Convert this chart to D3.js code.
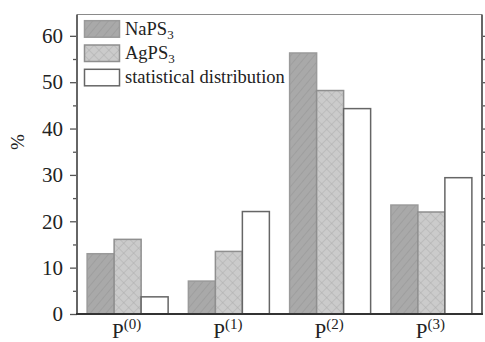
<!DOCTYPE html>
<html>
<head>
<meta charset="utf-8">
<script src="https://cdn.jsdelivr.net/npm/d3@7"></script>
<style>
  html, body { margin: 0; padding: 0; background: #fff; }
  svg { display: block; }
  svg text { font-family: "Liberation Serif", "Times New Roman", serif; }
</style>
</head>
<body>
<svg id="chart" width="485" height="342"></svg>
<script>
// Phosphorus site populations (%)
const categories = ["0", "1", "2", "3"];
const seriesNames = ["NaPS3", "AgPS3", "statistical distribution"];
const naps3 = [13.0, 7.1, 56.3, 23.5];
const agps3 = [16.1, 13.5, 48.2, 22.0];
const statistical = [3.7, 22.1, 44.3, 29.4];
const yTicks = [0, 10, 20, 30, 40, 50, 60];
const yMinorTicks = [5, 15, 25, 35, 45, 55];

const SERIF = "'Liberation Serif', 'Times New Roman', serif";
const svg = d3.select("#chart");
const W = 485;
const x0 = 77, x1 = W - 3;
const yTop = 14.5, yBot = 314;

const x = d3.scaleBand().domain(categories).range([x0, x1]).paddingInner(0).paddingOuter(0);
const y = d3.scaleLinear().domain([0, 64.6]).range([yBot, yTop]);

// hatch patterns
const defs = svg.append("defs");
const diag = defs.append("pattern").attr("id", "diag")
  .attr("patternUnits", "userSpaceOnUse").attr("width", 6).attr("height", 6)
  .attr("patternTransform", "rotate(40)");
diag.append("rect").attr("width", 6).attr("height", 6).attr("fill", "#a9a9a9");
diag.append("line").attr("x1", 0).attr("y1", 0).attr("x2", 0).attr("y2", 6)
  .attr("stroke", "#999").attr("stroke-width", 1.4);

const cross = defs.append("pattern").attr("id", "cross")
  .attr("patternUnits", "userSpaceOnUse").attr("width", 7).attr("height", 7)
  .attr("patternTransform", "rotate(45)");
cross.append("rect").attr("width", 7).attr("height", 7).attr("fill", "#cbcbcb");
cross.append("line").attr("x1", 0).attr("y1", 0).attr("x2", 0).attr("y2", 7)
  .attr("stroke", "#adadad").attr("stroke-width", 1);
cross.append("line").attr("x1", 0).attr("y1", 0).attr("x2", 7).attr("y2", 0)
  .attr("stroke", "#adadad").attr("stroke-width", 1);

const fills = { "NaPS3": "url(#diag)", "AgPS3": "url(#cross)", "statistical distribution": "#fff" };
const strokes = { "NaPS3": "#9a9a9a", "AgPS3": "#8f8f8f", "statistical distribution": "#666" };
const seriesData = { "NaPS3": naps3, "AgPS3": agps3, "statistical distribution": statistical };

// bars: three per group, centred in each band
const xs = d3.scaleBand().domain(seriesNames).range([0, x.bandwidth()]).paddingInner(0).paddingOuter(0.375);
const barW = xs.bandwidth();
categories.forEach((c, i) => {
  seriesNames.forEach(s => {
    const v = seriesData[s][i];
    svg.append("rect")
      .attr("x", x(c) + xs(s))
      .attr("y", y(v))
      .attr("width", barW)
      .attr("height", y(0) - y(v))
      .attr("fill", fills[s])
      .attr("stroke", strokes[s])
      .attr("stroke-width", 1.5);
  });
});

// frame: top line
svg.append("line").attr("x1", x0).attr("x2", x1).attr("y1", yTop).attr("y2", yTop)
  .attr("stroke", "#8a8a8a").attr("stroke-width", 1);

// left axis
const yAxisL = svg.append("g").attr("transform", `translate(${x0},0)`)
  .call(d3.axisLeft(y).tickValues(yTicks).tickSize(7).tickPadding(7))
  .attr("font-family", SERIF);
yAxisL.select(".domain").remove();
yAxisL.selectAll(".tick line").attr("stroke", "#555").attr("stroke-width", 1.3);
yAxisL.selectAll(".tick text").attr("font-size", 21).attr("fill", "#222");
svg.append("g").attr("transform", `translate(${x0},0)`)
  .call(d3.axisLeft(y).tickValues(yMinorTicks).tickSize(4).tickFormat(""))
  .call(g => g.select(".domain").remove())
  .selectAll(".tick line").attr("stroke", "#555").attr("stroke-width", 1.3);
svg.append("line").attr("x1", x0).attr("x2", x0).attr("y1", yTop).attr("y2", yBot)
  .attr("stroke", "#666").attr("stroke-width", 2);

// right axis
const rightTicks = yTicks.concat(yMinorTicks).filter(t => t > 0);
svg.append("g").attr("transform", `translate(${x1},0)`)
  .call(d3.axisRight(y).tickValues(rightTicks).tickSize(4).tickFormat(""))
  .call(g => g.select(".domain").remove())
  .selectAll(".tick line").attr("stroke", "#555").attr("stroke-width", 1.3);
svg.append("line").attr("x1", x1).attr("x2", x1).attr("y1", yTop).attr("y2", yBot)
  .attr("stroke", "#666").attr("stroke-width", 2);

// bottom axis
svg.append("line").attr("x1", x0 - 1).attr("x2", x1 + 1).attr("y1", yBot).attr("y2", yBot)
  .attr("stroke", "#333").attr("stroke-width", 2);

// x labels P^(n)
categories.forEach(c => {
  const t = svg.append("text")
    .attr("x", x(c) + x.bandwidth() / 2 - 1)
    .attr("y", 338)
    .attr("text-anchor", "middle")
    .attr("font-family", SERIF)
    .attr("font-size", 21)
    .attr("fill", "#222");
  t.append("tspan").text("P");
  t.append("tspan").attr("font-size", 15).attr("dy", -9).text(`(${c})`);
});

// y label
svg.append("text")
  .attr("transform", "translate(24,142) rotate(-90)")
  .attr("text-anchor", "middle")
  .attr("font-family", SERIF)
  .attr("font-size", 19)
  .attr("fill", "#222")
  .text("%");

// legend
const legendY = [20.7, 45, 69.3];
seriesNames.forEach((s, i) => {
  svg.append("rect")
    .attr("x", 84.5).attr("y", legendY[i])
    .attr("width", 35).attr("height", 16.5)
    .attr("fill", fills[s]).attr("stroke", strokes[s]).attr("stroke-width", 1.5);
  const t = svg.append("text")
    .attr("x", 125).attr("y", legendY[i] + 14)
    .attr("font-family", SERIF)
    .attr("font-size", 18.5)
    .attr("fill", "#222");
  if (s === "statistical distribution") {
    t.text(s);
  } else {
    t.append("tspan").text(s.slice(0, 4));
    t.append("tspan").attr("font-size", 13).attr("dy", 4).text("3");
  }
});
</script>
</body>
</html>
